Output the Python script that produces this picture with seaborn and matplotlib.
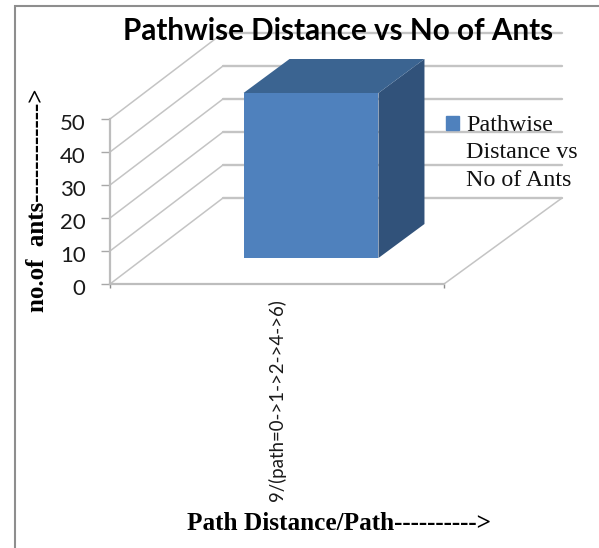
import matplotlib
matplotlib.use('Agg')

import matplotlib.pyplot as plt
from matplotlib.lines import Line2D
from matplotlib.patches import Patch, Polygon, Rectangle
from matplotlib.transforms import Affine2D, IdentityTransform
import seaborn as sns

# data
paths = ['9/(path=0->1->2->4->6)']
ants = [50]
y_ticks = [0, 10, 20, 30, 40, 50]
series_name = 'Pathwise\nDistance vs\nNo of Ants'

W, H = 599, 548
GRID = '#c4c4c4'
FRONT, TOP, SIDE = '#4f81bd', '#3b6491', '#31527a'
SERIF = 'Liberation Serif'

sns.set_theme(style='white')
plt.rcParams['font.family'] = ['Lato', 'DejaVu Sans']

fig = plt.figure(figsize=(W / 100, H / 100), dpi=100, facecolor='white')
ax = fig.add_axes([110 / W, (H - 284) / H, 334 / W, 165 / H])
ax.patch.set_alpha(0)

sns.barplot(x=paths, y=ants, width=0.404, color=FRONT, saturation=1, ax=ax, zorder=5)
ax.set_xlim(-0.5, 0.5)
ax.set_ylim(0, max(y_ticks))
ax.set_yticks(y_ticks)

# chart frame, cut off by the right and bottom edge like the original
fig.add_artist(Rectangle((15 / W, -0.05), 1.1, (H - 6) / H + 0.05, transform=fig.transFigure,
                         fill=False, ec='#8e8e8e', lw=1.5))

# back wall and floor
depth_left, depth_right, depth_y = 113, 118, 86
for v in y_ticks:
    x0, y0 = ax.transData.transform((-0.5, v))
    x1, _ = ax.transData.transform((0.5, v))
    ax.add_line(Line2D([x0, x0 + depth_left], [y0, y0 + depth_y],
                       transform=IdentityTransform(), color=GRID, lw=1.1, clip_on=False, zorder=1))
    ax.add_line(Line2D([x0 + depth_left, x1 + depth_right], [y0 + depth_y, y0 + depth_y],
                       transform=IdentityTransform(), color=GRID, lw=1.7, clip_on=False, zorder=1))
x1, y1 = ax.transData.transform((0.5, 0))
ax.add_line(Line2D([x1, x1 + depth_right], [y1, y1 + depth_y],
                   transform=IdentityTransform(), color=GRID, lw=1.1, clip_on=False, zorder=1))

# the bar stands part way into the floor, extrude it to get the 3d look
bar = ax.patches[0]
shift_x, shift_y = 34, 26
bar_dx, bar_dy = 46, 34
to_px = ax.transData + Affine2D().translate(shift_x, shift_y)
bar.set_transform(to_px)
bar.set_clip_on(False)
bar.set_edgecolor('none')
(l, b), (r, t) = to_px.transform([(bar.get_x(), 0),
                                  (bar.get_x() + bar.get_width(), bar.get_height())])
ax.add_patch(Polygon([(r, b), (r + bar_dx, b + bar_dy), (r + bar_dx, t + bar_dy), (r, t)],
                     transform=IdentityTransform(), fc=SIDE, ec='none', clip_on=False, zorder=4))
ax.add_patch(Polygon([(l, t), (l + bar_dx, t + bar_dy), (r + bar_dx, t + bar_dy), (r, t)],
                     transform=IdentityTransform(), fc=TOP, ec='none', clip_on=False, zorder=4))

# axes
sns.despine(ax=ax, top=True, right=True)
for side in ['left', 'bottom']:
    ax.spines[side].set_color('#bdbdbd')
    ax.spines[side].set_linewidth(1.6)
    ax.spines[side].set_zorder(2)
ax.set_xticks([-0.5, 0.5], minor=True)
ax.tick_params(axis='x', which='minor', bottom=True, length=3, width=1, color='#8c8c8c')
ax.tick_params(axis='x', which='major', bottom=False, pad=5, labelsize=13.4, labelrotation=90,
               labelcolor='#1a1a1a')
ax.tick_params(axis='y', left=True, length=6.5, width=1, color='#a8a8a8', pad=11,
               labelsize=16, labelcolor='#1a1a1a')
# tick numbers sit a little below their ticks in the original
for label in ax.get_yticklabels():
    label.set_transform(label.get_transform() + Affine2D().translate(0, -3))

ax.set_xlabel('Path Distance/Path---------->', family=SERIF, fontweight='bold', fontsize=18.2,
              color='black')
ax.xaxis.set_label_coords((339.5 - 110) / 334, (284 - 523) / 165)
ax.xaxis.label.set_verticalalignment('center')
ax.set_ylabel('no.of  ants------------>', family=SERIF, fontweight='bold', fontsize=18,
              color='black')
ax.yaxis.set_label_coords((38 - 110) / 334, (284 - 200) / 165)
ax.yaxis.label.set_verticalalignment('center')

fig.text(338 / W, (H - 31) / H, 'Pathwise Distance vs No of Ants', ha='center', va='center',
         fontweight='bold', fontsize=21.3, color='black', zorder=10)

leg = ax.legend(handles=[Patch(color=FRONT, label=series_name)], frameon=False,
                loc='upper left', bbox_to_anchor=(446 / W, (H - 115) / H),
                bbox_transform=fig.transFigure, borderpad=0, borderaxespad=0,
                handlelength=0.54, handleheight=0.54, handletextpad=0.3,
                prop={'family': SERIF, 'size': 17.3}, labelspacing=0)
leg.get_texts()[0].set_linespacing(1.4)
leg.get_texts()[0].set_color('#111111')
leg.get_patches()[0].set_y(leg.get_patches()[0].get_y() + 21)
leg.set_zorder(6)

fig.savefig('out.png', dpi=100)
